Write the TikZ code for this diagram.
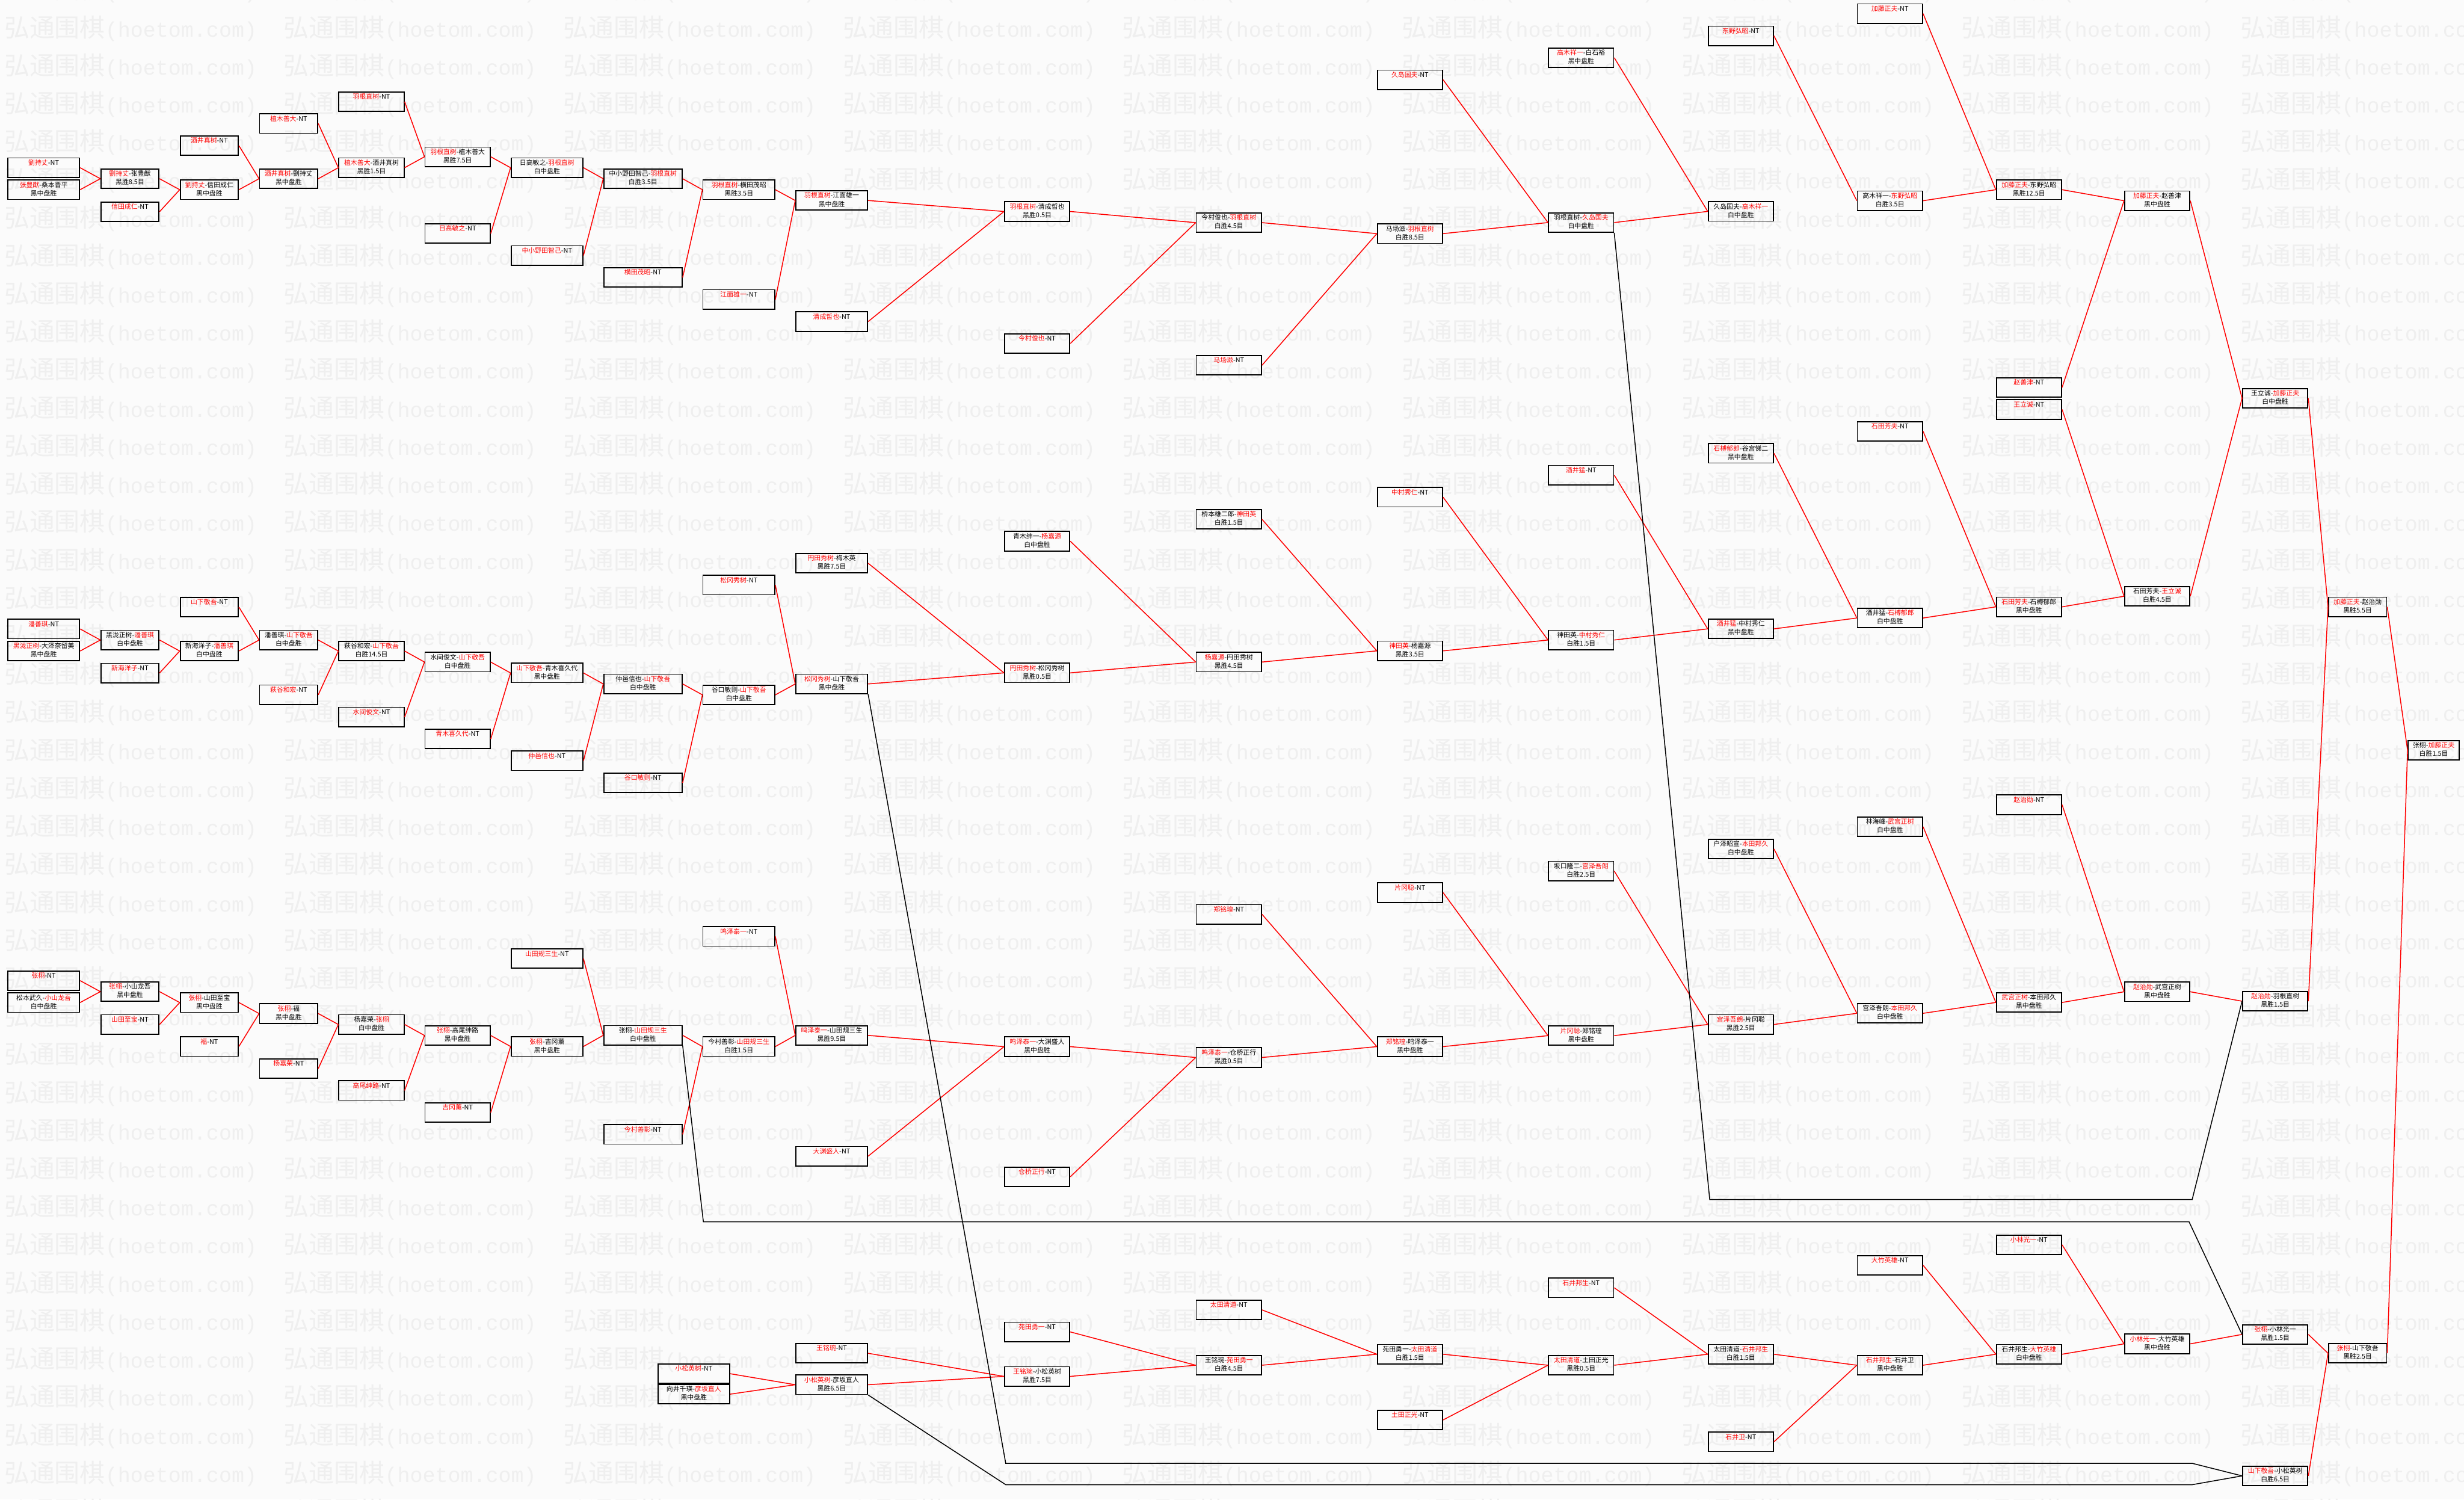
\documentclass[tikz,border=0pt]{standalone}
\usepackage{fontspec}
\usetikzlibrary{positioning}
\newfontfamily\cjk{Noto Sans CJK SC}
\newfontfamily\wmono{Liberation Mono}
\definecolor{WinRed}{HTML}{FF0000}
\definecolor{PageBack}{HTML}{FBFBFB}
\definecolor{MarkGray}{HTML}{EFEFEF}
\newcommand{\W}[1]{\textcolor{WinRed}{#1}}
\newcommand{\mres}[2]{\strut#1\\\strut#2}
\tikzset{game/.style={draw,line width=1.35pt,minimum height=0.866cm,inner sep=0pt,
 align=center,font=\cjk\fontsize{8.3}{10.7}\selectfont},
 wa/.style={game,minimum width=3.2cm},wb/.style={game,minimum width=2.59cm},
 wc/.style={game,minimum width=2.905cm},wd/.style={game,minimum width=3.49cm},
 we/.style={game,minimum width=2.28cm},
 win/.style={draw=WinRed,line width=1.15pt},lose/.style={draw=black,line width=1.15pt},
 wmark/.style={anchor=west,inner sep=0pt,text=MarkGray,font=\cjk\fontsize{32}{32}\selectfont}}

\begin{document}
\begin{tikzpicture}[x=0.07cm,y=-0.07cm]
\useasboundingbox (0,0) rectangle (1568,954);
\fill[PageBack] (0,0) rectangle (1568,954);
\begin{scope}
\clip (0,0) rectangle (1568,954);
\foreach \r in {0,...,40}\foreach \c in {0,...,8}
 {\node[wmark] (wm-\r-\c) at ({2.6+177.9*\c},{-6.2+24.2*\r}) {弘通围棋{\wmono\fontsize{26.7}{32}\selectfont(hoetom.com)}};}
\end{scope}
% upper bracket
\node[wa] (A1) at (27.8,106.7) {\mres{\W{劉持丈}-NT}{}};
\node[wa] (A2) at (27.8,120.7) {\mres{\W{张豊猷}-桑本晋平}{黑中盘胜}};
\node[wb] (B1) at (82.7,113.7) {\mres{\W{劉持丈}-张豊猷}{黑胜8.5目}};
\node[wb] (B2) at (82.7,134.7) {\mres{\W{信田成仁}-NT}{}};
\node[wb] (C1) at (133.2,120.7) {\mres{\W{劉持丈}-信田成仁}{黑中盘胜}};
\node[wb] (C2) at (133.2,92.65) {\mres{\W{酒井真树}-NT}{}};
\node[wb] (D1) at (183.7,113.7) {\mres{\W{酒井真树}-劉持丈}{黑中盘胜}};
\node[wb] (D2) at (183.7,78.6) {\mres{\W{植木善大}-NT}{}};
\node[wc] (E1) at (236.4,106.7) {\mres{\W{植木善大}-酒井真树}{黑胜1.5目}};
\node[wc] (E2) at (236.4,64.7) {\mres{\W{羽根直树}-NT}{}};
\node[wc] (F1) at (291.2,99.75) {\mres{\W{羽根直树}-植木善大}{黑胜7.5目}};
\node[wc] (F2) at (291.2,148.6) {\mres{\W{日高敏之}-NT}{}};
\node[wa] (G1) at (348.1,106.7) {\mres{日高敏之-\W{羽根直树}}{白中盘胜}};
\node[wa] (G2) at (348.1,162.55) {\mres{\W{中小野田智己}-NT}{}};
\node[wd] (H1) at (409.15,113.7) {\mres{中小野田智己-\W{羽根直树}}{白胜3.5目}};
\node[wd] (H2) at (409.15,176.55) {\mres{\W{横田茂昭}-NT}{}};
\node[wa] (I1) at (470.2,120.7) {\mres{\W{羽根直树}-横田茂昭}{黑胜3.5目}};
\node[wa] (I2) at (470.2,190.55) {\mres{\W{江面雄一}-NT}{}};
\node[wa] (J1) at (529.25,127.55) {\mres{\W{羽根直树}-江面雄一}{黑中盘胜}};
\node[wa] (J2) at (529.25,204.6) {\mres{\W{清成哲也}-NT}{}};
\node[wc] (K1) at (660,134.55) {\mres{\W{羽根直树}-清成哲也}{黑胜0.5目}};
\node[wc] (K2) at (660,218.55) {\mres{\W{今村俊也}-NT}{}};
\node[wc] (L1) at (782,141.65) {\mres{今村俊也-\W{羽根直树}}{白胜4.5目}};
\node[wc] (L2) at (782,232.4) {\mres{\W{马场滋}-NT}{}};
\node[wc] (M1) at (897.25,148.65) {\mres{马场滋-\W{羽根直树}}{白胜8.5目}};
\node[wc] (M2) at (897.25,50.75) {\mres{\W{久岛国夫}-NT}{}};
\node[wc] (N1) at (1006.15,141.6) {\mres{羽根直树-\W{久岛国夫}}{白中盘胜}};
\node[wc] (N2) at (1006.15,36.7) {\mres{\W{高木祥一}-白石裕}{黑中盘胜}};
\node[wc] (O1) at (1107.8,134.5) {\mres{久岛国夫-\W{高木祥一}}{白中盘胜}};
\node[wc] (O2) at (1107.8,22.8) {\mres{\W{东野弘昭}-NT}{}};
\node[wc] (P1) at (1202.7,127.7) {\mres{高木祥一-\W{东野弘昭}}{白胜3.5目}};
\node[wc] (P2) at (1202.7,8.7) {\mres{\W{加藤正夫}-NT}{}};
\node[wc] (Q1) at (1291.15,120.7) {\mres{\W{加藤正夫}-东野弘昭}{黑胜12.5目}};
\node[wc] (R1) at (1372.75,127.7) {\mres{\W{加藤正夫}-赵善津}{黑中盘胜}};
\node[wc] (R2) at (1291.15,246.45) {\mres{\W{赵善津}-NT}{}};
\node[wc] (S2) at (1291.15,260.5) {\mres{\W{王立诚}-NT}{}};
\node[wc] (T1) at (1447.85,253.4) {\mres{王立诚-\W{加藤正夫}}{白中盘胜}};
\node[wc] (U1) at (1291.15,386.1) {\mres{\W{石田芳夫}-石榑郁郎}{黑中盘胜}};
\node[wc] (V1) at (1372.75,379.35) {\mres{石田芳夫-\W{王立诚}}{白胜4.5目}};
\node[wb] (W1) at (1500.3,386.1) {\mres{\W{加藤正夫}-赵治勋}{黑胜5.5目}};
\node[we] (X1) at (1548.7,477.35) {\mres{张栩-\W{加藤正夫}}{白胜1.5目}};
% middle bracket
\node[wa] (a1) at (27.8,400.15) {\mres{\W{潘善琪}-NT}{}};
\node[wa] (a2) at (27.8,414.2) {\mres{\W{黑泷正树}-大泽奈留美}{黑中盘胜}};
\node[wb] (b1) at (82.7,407.2) {\mres{黑泷正树-\W{潘善琪}}{白中盘胜}};
\node[wb] (b2) at (82.7,428.2) {\mres{\W{新海洋子}-NT}{}};
\node[wb] (c1) at (133.2,414.2) {\mres{新海洋子-\W{潘善琪}}{白中盘胜}};
\node[wb] (c2) at (133.2,386.25) {\mres{\W{山下敬吾}-NT}{}};
\node[wb] (d1) at (183.7,407.2) {\mres{潘善琪-\W{山下敬吾}}{白中盘胜}};
\node[wb] (d2) at (183.7,442.05) {\mres{\W{萩谷和宏}-NT}{}};
\node[wc] (e1) at (236.4,414.2) {\mres{萩谷和宏-\W{山下敬吾}}{白胜14.5目}};
\node[wc] (e2) at (236.4,456.2) {\mres{\W{水间俊文}-NT}{}};
\node[wc] (f1) at (291.2,421.2) {\mres{水间俊文-\W{山下敬吾}}{白中盘胜}};
\node[wc] (f2) at (291.2,470.15) {\mres{\W{青木喜久代}-NT}{}};
\node[wa] (g1) at (348.1,428.15) {\mres{\W{山下敬吾}-青木喜久代}{黑中盘胜}};
\node[wa] (g2) at (348.1,484) {\mres{\W{仲邑信也}-NT}{}};
\node[wd] (h1) at (409.15,435.15) {\mres{仲邑信也-\W{山下敬吾}}{白中盘胜}};
\node[wd] (h2) at (409.15,498) {\mres{\W{谷口敏则}-NT}{}};
\node[wa] (i1) at (470.2,442.1) {\mres{谷口敏则-\W{山下敬吾}}{白中盘胜}};
\node[wa] (i2) at (470.2,372.2) {\mres{\W{松冈秀树}-NT}{}};
\node[wa] (j1) at (529.25,435.15) {\mres{\W{松冈秀树}-山下敬吾}{黑中盘胜}};
\node[wa] (j2) at (529.25,358.35) {\mres{\W{円田秀树}-梅木英}{黑胜7.5目}};
\node[wc] (k1) at (660,428.1) {\mres{\W{円田秀树}-松冈秀树}{黑胜0.5目}};
\node[wc] (k2) at (660,344.35) {\mres{青木绅一-\W{杨嘉源}}{白中盘胜}};
\node[wc] (l1) at (782,421.2) {\mres{\W{杨嘉源}-円田秀树}{黑胜4.5目}};
\node[wc] (l2) at (782,330.4) {\mres{桥本雄二郎-\W{神田英}}{白胜1.5目}};
\node[wc] (m1) at (897.25,414.1) {\mres{\W{神田英}-杨嘉源}{黑胜3.5目}};
\node[wc] (m2) at (897.25,316.35) {\mres{\W{中村秀仁}-NT}{}};
\node[wc] (n1) at (1006.15,407.2) {\mres{神田英-\W{中村秀仁}}{白胜1.5目}};
\node[wc] (n2) at (1006.15,302.3) {\mres{\W{酒井猛}-NT}{}};
\node[wc] (o1) at (1107.8,400.1) {\mres{\W{酒井猛}-中村秀仁}{黑中盘胜}};
\node[wc] (o2) at (1107.8,288.4) {\mres{\W{石榑郁郎}-谷宫悌二}{黑中盘胜}};
\node[wc] (p1) at (1202.7,393.2) {\mres{酒井猛-\W{石榑郁郎}}{白中盘胜}};
\node[wc] (p2) at (1202.7,274.4) {\mres{\W{石田芳夫}-NT}{}};
% lower bracket
\node[wa] (q1) at (27.8,623.9) {\mres{\W{张栩}-NT}{}};
\node[wa] (q2) at (27.8,637.85) {\mres{松本武久-\W{小山龙吾}}{白中盘胜}};
\node[wb] (r1) at (82.7,630.9) {\mres{\W{张栩}-小山龙吾}{黑中盘胜}};
\node[wb] (r2) at (82.7,651.8) {\mres{\W{山田至宝}-NT}{}};
\node[wb] (s1) at (133.2,637.85) {\mres{\W{张栩}-山田至宝}{黑中盘胜}};
\node[wb] (s2) at (133.2,665.8) {\mres{\W{褔}-NT}{}};
\node[wb] (t1) at (183.7,644.85) {\mres{\W{张栩}-褔}{黑中盘胜}};
\node[wb] (t2) at (183.7,679.85) {\mres{\W{杨嘉荣}-NT}{}};
\node[wc] (u1) at (236.4,651.8) {\mres{杨嘉荣-\W{张栩}}{白中盘胜}};
\node[wc] (u2) at (236.4,693.8) {\mres{\W{高尾绅路}-NT}{}};
\node[wc] (v1) at (291.2,658.8) {\mres{\W{张栩}-高尾绅路}{黑中盘胜}};
\node[wc] (v2) at (291.2,707.85) {\mres{\W{吉冈薰}-NT}{}};
\node[wa] (w1) at (348.1,665.8) {\mres{\W{张栩}-吉冈薰}{黑中盘胜}};
\node[wa] (w2) at (348.1,609.9) {\mres{\W{山田规三生}-NT}{}};
\node[wd] (x1) at (409.15,658.7) {\mres{张栩-\W{山田规三生}}{白中盘胜}};
\node[wd] (x2) at (409.15,721.75) {\mres{\W{今村善彰}-NT}{}};
\node[wa] (y1) at (470.2,665.85) {\mres{今村善彰-\W{山田规三生}}{白胜1.5目}};
\node[wa] (y2) at (470.2,595.75) {\mres{\W{鸣泽泰一}-NT}{}};
\node[wa] (z1) at (529.25,658.75) {\mres{\W{鸣泽泰一}-山田规三生}{黑胜9.5目}};
\node[wa] (z2) at (529.25,735.6) {\mres{\W{大渊盛人}-NT}{}};
\node[wc] (la) at (660,665.9) {\mres{\W{鸣泽泰一}-大渊盛人}{黑中盘胜}};
\node[wc] (lb) at (660,748.7) {\mres{\W{仓桥正行}-NT}{}};
\node[wc] (lc) at (782,672.8) {\mres{\W{鸣泽泰一}-仓桥正行}{黑胜0.5目}};
\node[wc] (ld) at (782,581.7) {\mres{\W{郑铭瑝}-NT}{}};
\node[wc] (le) at (897.25,665.9) {\mres{\W{郑铭瑝}-鸣泽泰一}{黑中盘胜}};
\node[wc] (lf) at (897.25,567.9) {\mres{\W{片冈聪}-NT}{}};
\node[wc] (lg) at (1006.15,658.9) {\mres{\W{片冈聪}-郑铭瑝}{黑中盘胜}};
\node[wc] (lh) at (1006.15,554.2) {\mres{坂口隆二-\W{宫泽吾朗}}{白胜2.5目}};
\node[wc] (li) at (1107.8,651.8) {\mres{\W{宫泽吾朗}-片冈聪}{黑胜2.5目}};
\node[wc] (lj) at (1107.8,540.1) {\mres{户泽昭宣-\W{本田邦久}}{白中盘胜}};
\node[wc] (lk) at (1202.7,644.7) {\mres{宫泽吾朗-\W{本田邦久}}{白中盘胜}};
\node[wc] (ll) at (1202.7,526) {\mres{林海峰-\W{武宫正树}}{白中盘胜}};
\node[wc] (lm) at (1291.15,637.8) {\mres{\W{武宫正树}-本田邦久}{黑中盘胜}};
\node[wc] (ln) at (1291.15,512) {\mres{\W{赵治勋}-NT}{}};
\node[wc] (lo) at (1372.75,631) {\mres{\W{赵治勋}-武宫正树}{黑中盘胜}};
\node[wc] (lp) at (1447.85,637) {\mres{\W{赵治勋}-羽根直树}{黑胜1.5目}};
% bottom bracket
\node[wa] (ba) at (441.5,874) {\mres{\W{小松英树}-NT}{}};
\node[wa] (bb) at (441.5,887) {\mres{向井千瑛-\W{彦坂直人}}{黑中盘胜}};
\node[wa] (bc) at (529.25,881) {\mres{\W{小松英树}-彦坂直人}{黑胜6.5目}};
\node[wa] (bd) at (529.25,861) {\mres{\W{王铭琬}-NT}{}};
\node[wc] (be) at (660,875.7) {\mres{\W{王铭琬}-小松英树}{黑胜7.5目}};
\node[wc] (bf) at (660,847.4) {\mres{\W{苑田勇一}-NT}{}};
\node[wc] (bg) at (782,868.6) {\mres{王铭琬-\W{苑田勇一}}{白胜4.5目}};
\node[wc] (bh) at (782,833.4) {\mres{\W{太田清道}-NT}{}};
\node[wc] (bi) at (897.25,861.6) {\mres{苑田勇一-\W{太田清道}}{白胜1.5目}};
\node[wc] (bj) at (897.25,903.4) {\mres{\W{土田正光}-NT}{}};
\node[wc] (bk) at (1006.15,868.6) {\mres{\W{太田清道}-土田正光}{黑胜0.5目}};
\node[wc] (bl) at (1006.15,819.3) {\mres{\W{石井邦生}-NT}{}};
\node[wc] (bm) at (1107.8,861.6) {\mres{太田清道-\W{石井邦生}}{白胜1.5目}};
\node[wc] (bn) at (1107.8,917.3) {\mres{\W{石井卫}-NT}{}};
\node[wc] (bo) at (1202.7,868.6) {\mres{\W{石井邦生}-石井卫}{黑中盘胜}};
\node[wc] (bp) at (1202.7,805) {\mres{\W{大竹英雄}-NT}{}};
\node[wc] (bq) at (1291.15,861.6) {\mres{石井邦生-\W{大竹英雄}}{白中盘胜}};
\node[wc] (br) at (1291.15,792) {\mres{\W{小林光一}-NT}{}};
\node[wc] (bs) at (1372.75,855) {\mres{\W{小林光一}-大竹英雄}{黑中盘胜}};
\node[wc] (bt) at (1447.85,849) {\mres{\W{张栩}-小林光一}{黑胜1.5目}};
\node[wc] (bu) at (1447.85,939) {\mres{\W{山下敬吾}-小松英树}{白胜6.5目}};
\node[wb] (bv) at (1500.3,861) {\mres{\W{张栩}-山下敬吾}{黑胜2.5目}};
% winners' lines
\foreach \s/\t in {A1/B1,A2/B1,B1/C1,B2/C1,C2/D1,C1/D1,D2/E1,D1/E1,E2/F1,E1/F1,
 F1/G1,F2/G1,G1/H1,G2/H1,H1/I1,H2/I1,I1/J1,I2/J1,J1/K1,J2/K1,K1/L1,K2/L1,L1/M1,L2/M1,
 M2/N1,M1/N1,N2/O1,N1/O1,O2/P1,P1/Q1,P2/Q1,Q1/R1,R2/R1,R1/T1,S2/V1,U1/V1,V1/T1,
 T1/W1,W1/X1,p2/U1,p1/U1,
 a1/b1,a2/b1,b1/c1,b2/c1,c2/d1,c1/d1,d1/e1,d2/e1,e1/f1,e2/f1,f1/g1,f2/g1,g1/h1,g2/h1,
 h1/i1,h2/i1,i2/j1,i1/j1,j2/k1,j1/k1,k2/l1,k1/l1,l2/m1,l1/m1,m2/n1,m1/n1,n2/o1,n1/o1,
 o2/p1,o1/p1,
 q1/r1,q2/r1,r1/s1,r2/s1,s1/t1,s2/t1,t1/u1,t2/u1,u1/v1,u2/v1,v1/w1,v2/w1,w2/x1,w1/x1,
 x1/y1,x2/y1,y2/z1,y1/z1,z1/la,z2/la,la/lc,lb/lc,ld/le,lc/le,lf/lg,le/lg,lh/li,lg/li,
 lj/lk,li/lk,ll/lm,lk/lm,ln/lo,lm/lo,lo/lp,lp/W1,
 ba/bc,bb/bc,bd/be,bc/be,bf/bg,be/bg,bh/bi,bg/bi,bi/bk,bj/bk,bl/bm,bk/bm,bm/bo,bn/bo,
 bp/bq,bo/bq,br/bs,bq/bs,bs/bt,bt/bv,bu/bv,bv/X1}
 \draw[win] (\s.east) -- (\t.west);
% losers' lines
\coordinate (k1a) at (1088,763.2); \coordinate (k1b) at (1395,763.2);
\coordinate (k2a) at (447.6,777.3); \coordinate (k2b) at (1393,777.3);
\coordinate (k3a) at (640,931); \coordinate (k3b) at (1395,931);
\coordinate (k4a) at (640,944.6); \coordinate (k4b) at (1395,944.6);
\draw[lose] (N1.south east) -- (k1a) -- (k1b) -- (lp.west);
\draw[lose] (x1.south east) -- (k2a) -- (k2b) -- (bt.west);
\draw[lose] (j1.south east) -- (k3a) -- (k3b) -- (bu.west);
\draw[lose] (bc.south east) -- (k4a) -- (k4b) -- (bu.west);
\end{tikzpicture}
\end{document}
